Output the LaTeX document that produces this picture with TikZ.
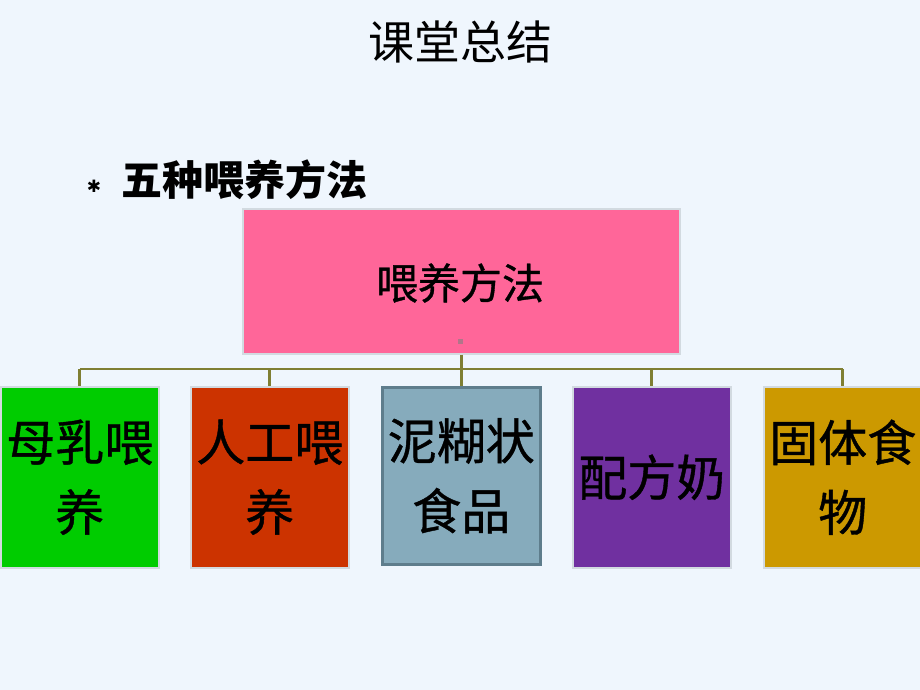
\documentclass[tikz,border=0pt]{standalone}
\usepackage{fontspec}
\setmainfont{Noto Sans CJK SC}
\newfontfamily\medfont{Noto Sans CJK SC}[FakeBold=0.8]
\newfontfamily\symfont{DejaVu Sans}
\definecolor{bgc}{HTML}{EFF6FD}
\definecolor{pinkc}{HTML}{FF6699}
\definecolor{greenc}{HTML}{00CC00}
\definecolor{redc}{HTML}{CC3300}
\definecolor{bluec}{HTML}{86ABBC}
\definecolor{bluebd}{HTML}{5E7D8C}
\definecolor{purplec}{HTML}{7030A0}
\definecolor{goldc}{HTML}{CC9900}
\definecolor{linec}{HTML}{7F7F33}
\definecolor{bdc}{HTML}{D2DAE0}
\begin{document}
\begin{tikzpicture}[x=1pt,y=-1pt,
  box/.style={draw=bdc,line width=1.5pt,minimum width=158pt,minimum height=181pt,inner sep=0pt,anchor=north west,align=center,text width=158pt,font=\medfont\fontsize{49}{70}\selectfont},
  conn/.style={draw=linec,line width=2.8pt}]
\useasboundingbox (0,0) rectangle (920,690);
\fill[bgc] (0,0) rectangle (920,690);
\node (title) at (460,42) {\fontsize{46}{50}\selectfont 课堂总结};
\node (bul) at (94,186) {\symfont\fontsize{17}{17}\selectfont ✱};
\node[anchor=west,inner sep=0pt] (sub) at (121,180) {\fontsize{41}{46}\selectfont\bfseries 五种喂养方法};
\node[draw=bdc,line width=1.5pt,fill=pinkc,minimum width=437pt,minimum height=145pt,anchor=north west,inner sep=0pt] (top) at (242,208) {};
\node (toptxt) at (460,283) {\medfont\fontsize{42}{46}\selectfont 喂养方法};
\fill[gray!60!pinkc] (457.5,338.5) rectangle (462.5,343.5);
\node[box,fill=greenc] (c1) at (0,386) {母乳喂\\养};
\node[box,fill=redc] (c2) at (190,386) {人工喂\\养};
\node[box,fill=bluec,draw=bluebd,line width=2.5pt,minimum height=177pt] (c3) at (381,386) {泥糊状\\食品};
\node[box,fill=purplec] (c4) at (572,386) {配方奶};
\node[box,fill=goldc] (c5) at (763,386) {固体食\\物};
\coordinate (bus) at (460,369);
\draw[conn] (top.south) -- (top.south |- bus);
\draw[conn] (c1.north |- bus) -- (c5.north |- bus);
\foreach \c in {c1,c2,c3,c4,c5} \draw[conn] (\c.north |- bus) -- (\c.north);
\end{tikzpicture}
\end{document}
